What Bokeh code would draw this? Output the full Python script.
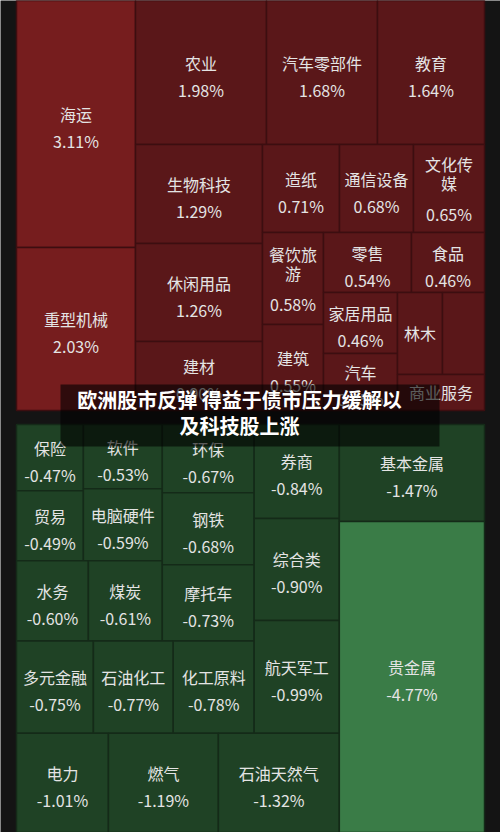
from bokeh.plotting import figure
from bokeh.models import Range1d, ColumnDataSource
from bokeh.core.properties import value
from bokeh.embed import file_html
from bokeh.resources import INLINE

# ---------------- data ----------------
title_lines = ["欧洲股市反弹 得益于债市压力缓解以", "及科技股上涨"]

up_names = ["海运", "重型机械", "农业", "汽车零部件", "教育", "生物科技", "休闲用品", "建材",
            "造纸", "通信设备", "文化传媒", "餐饮旅游", "建筑", "零售", "食品", "家居用品",
            "汽车", "林木", "", "商业服务"]
up_values = [3.11, 2.03, 1.98, 1.68, 1.64, 1.29, 1.26, 0.90,
             0.71, 0.68, 0.65, 0.58, 0.55, 0.54, 0.46, 0.46,
             0.45, 0.42, 0.40, 0.38]
up_weights = [29393, 19397, 18864, 15984, 15408, 12573, 12446, 8763,
              6776, 6512, 6248, 5612, 5246, 5280, 4380, 4514,
              4218, 3690, 3444, 3132]

down_names = ["保险", "贸易", "软件", "电脑硬件", "水务", "煤炭", "环保", "钢铁", "摩托车",
              "多元金融", "石油化工", "化工原料", "券商", "综合类", "航天军工",
              "电力", "燃气", "石油天然气", "基本金属", "贵金属"]
down_values = [-0.47, -0.49, -0.53, -0.59, -0.60, -0.61, -0.67, -0.68, -0.73,
               -0.75, -0.77, -0.78, -0.84, -0.90, -0.99,
               -1.01, -1.19, -1.32, -1.47, -4.77]
down_weights = [4422, 4690, 5056, 5688, 5760, 5920, 6256, 6624, 6992,
                7084, 7360, 7452, 7990, 8670, 9605,
                9108, 10890, 11979, 14065, 45095]

# treemap structure ("h" = side by side, "v" = stacked)
up_tree = ("h", [("v", ["海运", "重型机械"]),
                 ("v", [("h", ["农业", "汽车零部件", "教育"]),
                        ("h", [("v", ["生物科技", "休闲用品", "建材"]),
                               ("v", [("h", ["造纸", "通信设备", "文化传媒"]),
                                      ("h", [("v", ["餐饮旅游", "建筑"]),
                                             ("v", [("h", ["零售", "食品"]),
                                                    ("h", [("v", ["家居用品", "汽车"]),
                                                           ("v", [("h", ["林木", ""]), "商业服务"])])])])])])])])

down_tree = ("h", [("v", [("h", [("v", [("h", [("v", [("h", [("v", ["保险", "贸易"]),
                                                            ("v", ["软件", "电脑硬件"])]),
                                                    ("h", ["水务", "煤炭"])]),
                                             ("v", ["环保", "钢铁", "摩托车"])]),
                                      ("h", ["多元金融", "石油化工", "化工原料"])]),
                               ("v", ["券商", "综合类", "航天军工"])]),
                        ("h", ["电力", "燃气", "石油天然气"])]),
                  ("v", ["基本金属", "贵金属"])])

# ---------------- layout ----------------
def node_weight(node, w):
    if isinstance(node, str):
        return w[node]
    return sum(node_weight(k, w) for k in node[1])

def layout(node, w, x0, y0, x1, y1, out):
    if isinstance(node, str):
        out[node] = (x0, y0, x1, y1)
        return
    d, kids = node
    tot = sum(node_weight(k, w) for k in kids)
    pos = x0 if d == "h" else y0
    span = (x1 - x0) if d == "h" else (y1 - y0)
    for k in kids:
        step = span * node_weight(k, w) / tot
        if d == "h":
            layout(k, w, pos, y0, pos + step, y1, out)
        else:
            layout(k, w, x0, pos, x1, pos + step, out)
        pos += step

FS = 16

def str_width(s):
    wid = 0
    for ch in s:
        if ch.isdigit():
            wid += 0.57 * FS
        elif ch == ".":
            wid += 0.28 * FS
        elif ch == "%":
            wid += 0.85 * FS
        elif ch == "-":
            wid += 0.35 * FS
        else:
            wid += FS
    return wid

BG = "#141414"
p = figure(width=500, height=832, output_backend="svg", toolbar_location=None,
           x_range=Range1d(0, 500), y_range=Range1d(832, 0),
           background_fill_color=BG, border_fill_color=BG, min_border=0)
p.outline_line_color = None
p.xaxis.visible = False
p.yaxis.visible = False
p.xgrid.visible = False
p.ygrid.visible = False

def draw_group(names, values, weights, tree, region, dark, bright, line_col, thr):
    w = dict(zip(names, weights))
    rects = {}
    layout(tree, w, *region, rects)
    q = dict(l=[], r=[], t=[], b=[], c=[])
    tx = dict(x=[], y=[], s=[])
    for n, v in zip(names, values):
        x0, y0, x1, y1 = rects[n]
        q["l"].append(x0); q["r"].append(x1); q["t"].append(y0); q["b"].append(y1)
        q["c"].append(bright if abs(v) >= thr else dark)
        if not n:
            continue
        bw, bh = x1 - x0, y1 - y0
        cx, cy = (x0 + x1) / 2, (y0 + y1) / 2
        per = max(1, int((bw - 8) // FS))
        lines = [n[i:i + per] for i in range(0, len(n), per)]
        vs = f"{v:.2f}%"
        show_val = bh >= 50 and bw >= str_width(vs) + 8
        if show_val:
            if len(lines) == 1:
                ys = [cy - 10]; vy = cy + 17
            else:
                ys = [cy - 25 + 19 * i for i in range(len(lines))]; vy = ys[-1] + 31
        else:
            ys = [cy - 1 - 9.5 * (len(lines) - 1) + 19 * i for i in range(len(lines))]
        for ln, yy in zip(lines, ys):
            tx["x"].append(cx); tx["y"].append(yy); tx["s"].append(ln)
        if show_val:
            tx["x"].append(cx); tx["y"].append(vy); tx["s"].append(vs)
    p.quad(left="l", right="r", top="t", bottom="b", fill_color="c",
           line_color=line_col, line_width=1.5, source=ColumnDataSource(q))
    p.text(x="x", y="y", text="s", source=ColumnDataSource(tx),
           text_font=value("Noto Sans CJK SC"), text_font_size=f"{FS}px",
           text_color="#e4e4e4", text_align="center", text_baseline="middle")

draw_group(up_names, up_values, up_weights, up_tree, (16, 0, 484, 410),
           "#5a1719", "#761d1e", "#3c0e10", 2.0)
draw_group(down_names, down_values, down_weights, down_tree, (16, 424, 484, 832),
           "#1f4225", "#3a7c47", "#142a18", 4.0)

# title overlay
p.quad(left=[60], right=[439], top=[384], bottom=[446], fill_color="#000000",
       fill_alpha=0.6, line_color=None)
p.text(x=[239, 239], y=[399, 425], text=title_lines,
       text_font=value("Noto Sans CJK SC"), text_font_size="20px",
       text_font_style="bold", text_color="#ffffff",
       text_align="center", text_baseline="middle")

open("out.html", "w").write(file_html(p, INLINE))
